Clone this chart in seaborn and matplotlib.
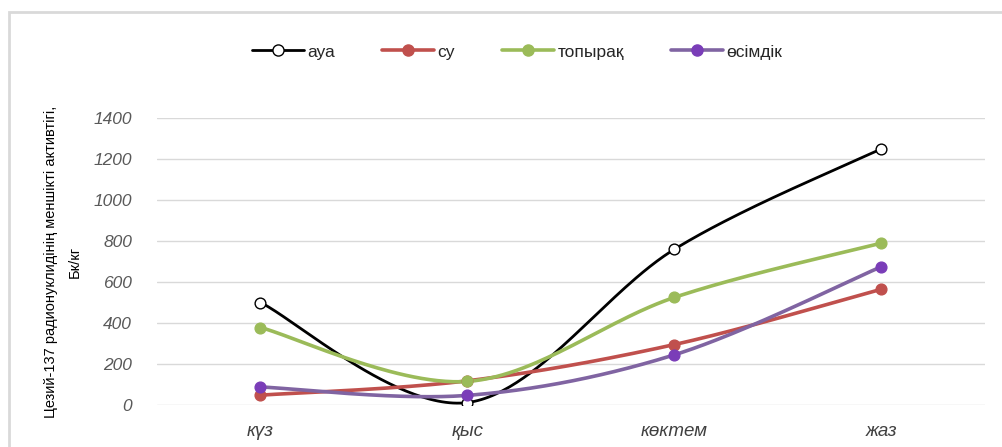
import numpy as np
import pandas as pd
import matplotlib
matplotlib.use("Agg")
import matplotlib.pyplot as plt
from matplotlib.lines import Line2D
from matplotlib.patches import Rectangle
import seaborn as sns

# Seasons and Cs-137 specific activity (Bq/kg) per medium
seasons = ["күз", "қыс", "көктем", "жаз"]
aua = [500, 12, 760, 1250]
su = [48, 118, 295, 565]
topyraq = [378, 115, 525, 790]
osimdik = [88, 47, 245, 675]

series_names = ["ауа", "су", "топырақ", "өсімдік"]
series_values = [aua, su, topyraq, osimdik]
line_colors = ["#000000", "#C0504D", "#9BBB59", "#8064A2"]
marker_faces = ["#FFFFFF", "#C0504D", "#9BBB59", "#7A3DB8"]
marker_edges = ["#000000", "#C0504D", "#9BBB59", "#7A3DB8"]
line_widths = [2.0, 2.6, 2.6, 2.6]

ylabel = "Цезий-137 радионуклидінің меншікті активтігі,\nБк/кг"

sns.set_theme(style="white")
plt.rcParams["font.family"] = ["Liberation Sans", "DejaVu Sans"]


def smooth_curve(xs, ys, n=60):
    """Cubic Bezier smoothing through every point (Catmull-Rom style)."""
    pts = np.column_stack([xs, ys]).astype(float)
    out = []
    m = len(pts)
    for i in range(m - 1):
        p0 = pts[i - 1] if i > 0 else pts[i]
        p1 = pts[i]
        p2 = pts[i + 1]
        p3 = pts[i + 2] if i + 2 < m else pts[i + 1]
        c1 = p1 + (p2 - p0) / 6.0
        c2 = p2 - (p3 - p1) / 6.0
        t = np.linspace(0, 1, n)[:, None]
        seg = ((1 - t) ** 3) * p1 + 3 * ((1 - t) ** 2) * t * c1 + 3 * (1 - t) * t ** 2 * c2 + t ** 3 * p2
        out.append(seg if i == 0 else seg[1:])
    return np.vstack(out)


pos = np.arange(len(seasons))
point_rows = []
curve_rows = []
for name, vals in zip(series_names, series_values):
    for p, v in zip(pos, vals):
        point_rows.append({"series": name, "x": p, "value": v})
    curve = smooth_curve(pos, vals)
    for k, (cx, cy) in enumerate(curve):
        curve_rows.append({"series": name, "x": cx, "value": cy, "k": k})
points = pd.DataFrame(point_rows)
curves = pd.DataFrame(curve_rows)

fig = plt.figure(figsize=(10.03, 4.47), dpi=100)
ax = fig.add_axes([157 / 1003, 1 - 405 / 447, (985 - 157) / 1003, (405 - 118) / 447])

# chart area frame
fig.patches.append(Rectangle((9 / 1003, -0.1), 1.2, 1 - 12 / 447 + 0.1,
                             transform=fig.transFigure, fill=False,
                             edgecolor="#D9D9D9", linewidth=2.0, zorder=0))

for name, col, lw in zip(series_names, line_colors, line_widths):
    sub = curves[curves["series"] == name]
    sns.lineplot(data=sub, x="x", y="value", sort=False, estimator=None,
                 color=col, linewidth=lw, ax=ax, legend=False, zorder=3)

for name, fc, ec in zip(series_names, marker_faces, marker_edges):
    sub = points[points["series"] == name]
    sns.scatterplot(data=sub, x="x", y="value", s=60, color=fc,
                    edgecolor=ec, linewidth=1.0, ax=ax, legend=False, zorder=4)

ax.set_xlim(-0.5, len(seasons) - 0.5)
ax.set_ylim(0, 1400)
ax.set_yticks(np.arange(0, 1401, 200))
ax.set_xticks(pos)
ax.set_xticklabels(seasons, fontstyle="italic", fontsize=13.5, color="#404040")
ax.tick_params(axis="y", labelsize=12.5, labelcolor="#595959", length=0, pad=18)
ax.tick_params(axis="x", length=0, pad=13)
for lbl in ax.get_yticklabels():
    lbl.set_fontstyle("italic")
ax.grid(axis="y", color="#D9D9D9", linewidth=1.0)
ax.grid(axis="x", visible=False)
for s in ax.spines.values():
    s.set_visible(False)
ax.set_xlabel("")
ax.set_ylabel("")

fig.text(63 / 1003, 1 - 262 / 447, ylabel, rotation=90, ha="center", va="center",
         fontsize=10.5, color="#000000", linespacing=1.9)

handles = [Line2D([0], [0], color=c, linewidth=lw, marker="o", markersize=8,
                  markerfacecolor=fc, markeredgecolor=ec)
           for c, lw, fc, ec in zip(line_colors, line_widths, marker_faces, marker_edges)]
fig.legend(handles, series_names, loc="center", bbox_to_anchor=(517 / 1003, 1 - 52 / 447),
           ncol=4, frameon=False, fontsize=12.5, handlelength=3.0, columnspacing=2.7,
           handletextpad=0.2)

fig.savefig("out.png", dpi=100)
